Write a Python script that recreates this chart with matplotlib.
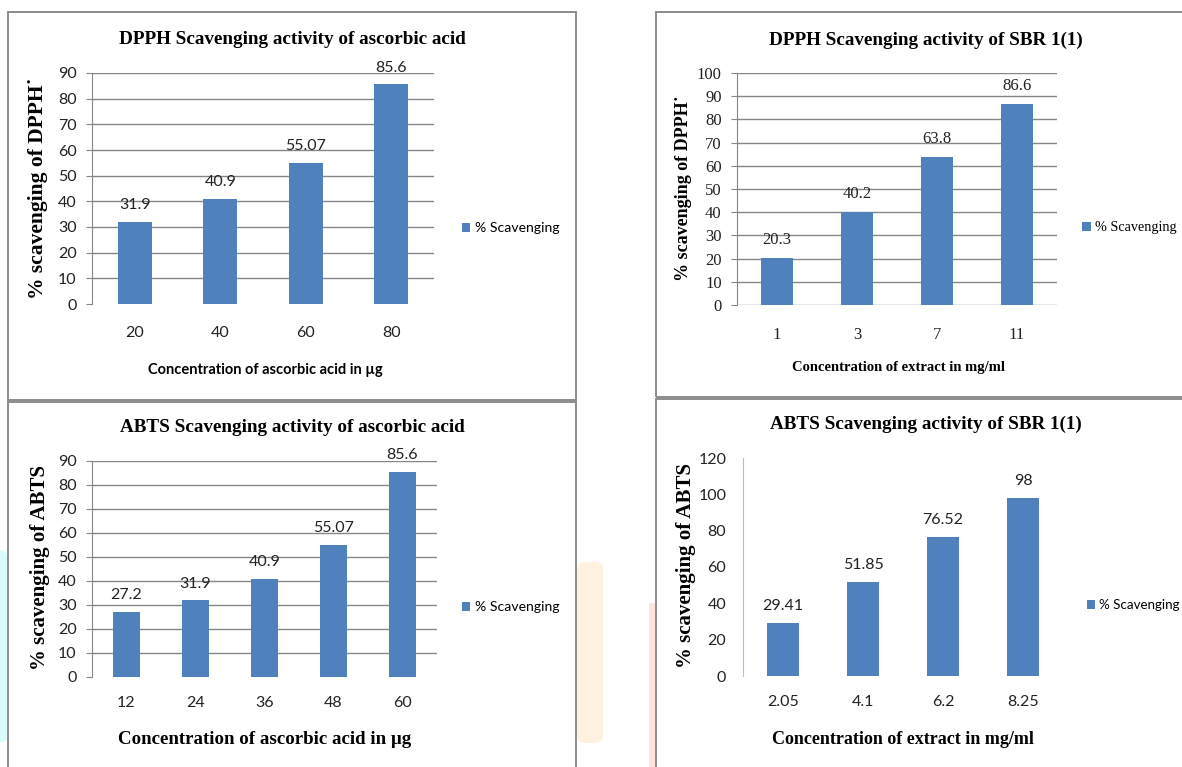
import matplotlib
matplotlib.use("Agg")
import matplotlib.pyplot as plt
from matplotlib.patches import Rectangle, FancyBboxPatch

# DPPH / ABTS scavenging data
dpph_aa_conc = ["20", "40", "60", "80"]
dpph_aa_pct = [31.9, 40.9, 55.07, 85.6]

dpph_sbr_conc = ["1", "3", "7", "11"]
dpph_sbr_pct = [20.3, 40.2, 63.8, 86.6]

abts_aa_conc = ["12", "24", "36", "48", "60"]
abts_aa_pct = [27.2, 31.9, 40.9, 55.07, 85.6]

abts_sbr_conc = ["2.05", "4.1", "6.2", "8.25"]
abts_sbr_pct = [29.41, 51.85, 76.52, 98]

W, H = 1182, 767
BAR = "#4F81BD"
GRID = "#868686"
SANS = "Lato"
SERIF = "Liberation Serif"

fig = plt.figure(figsize=(W / 100, H / 100), dpi=100)
fig.patch.set_facecolor("white")


def fx(x):
    return x / W


def fy(y):
    return 1 - y / H


def pixel_axes(l, t, r, b):
    return fig.add_axes([fx(l), fy(b), (r - l) / W, (b - t) / H])


# faint page background shapes
fig.add_artist(FancyBboxPatch((fx(-20), fy(743)), fx(28), (743 - 550) / H,
                              boxstyle="round,pad=0,rounding_size=0.01",
                              transform=fig.transFigure, fc="#DAFBFB", ec="none", zorder=0))
fig.add_artist(FancyBboxPatch((fx(577), fy(743)), fx(26), (743 - 562) / H,
                              boxstyle="round,pad=0,rounding_size=0.008",
                              transform=fig.transFigure, fc="#FFF1E0", ec="none", zorder=0))
fig.add_artist(Rectangle((fx(649), fy(775)), fx(6), (775 - 603) / H,
                         transform=fig.transFigure, fc="#FDE4DE", ec="none", zorder=0))

# panel frames
for l, t, r, b in [(8, 12, 576, 400), (8, 402, 576, 780), (656, 12, 1195, 397), (656, 399, 1195, 780)]:
    fig.add_artist(Rectangle((fx(l), fy(b)), (r - l) / W, (b - t) / H, transform=fig.transFigure,
                             fill=False, ec="#8C8C8C", lw=1.4, zorder=1))


def panel(box, cats, vals, ymax, ystep, font, tick_size, label_size, grid=True, zero_line=False,
          ytick_len=4, ypad=7, xpad=16):
    ax = pixel_axes(*box)
    ax.set_facecolor("none")
    x = list(range(len(cats)))
    bars = ax.bar(x, vals, width=0.4, color=BAR, label="% Scavenging", zorder=2)
    ax.bar_label(bars, fmt="%g", padding=7, fontsize=label_size, family=font, color="#222222")
    ax.set_xlim(-0.5, len(cats) - 0.5)
    ax.set_ylim(0, ymax)
    ticks = list(range(0, ymax + 1, ystep))
    ax.set_yticks(ticks)
    ax.set_xticks(x)
    ax.set_xticklabels(cats)
    if grid:
        for t in ticks if zero_line else ticks[1:]:
            ax.axhline(t, color=GRID, lw=1, zorder=1)
    for s in ["top", "right", "bottom"]:
        ax.spines[s].set_visible(False)
    ax.spines["left"].set_color(GRID if grid else "#BDBDBD")
    ax.tick_params(axis="y", length=ytick_len, color=GRID, pad=ypad, labelsize=tick_size)
    ax.tick_params(axis="x", length=0, pad=xpad, labelsize=tick_size)
    for lab in ax.get_xticklabels() + ax.get_yticklabels():
        lab.set_family(font)
        lab.set_color("#222222")
    return ax


ax1 = panel((92, 73, 434, 304), dpph_aa_conc, dpph_aa_pct, 90, 10, SANS, 11.5, 11.5, xpad=16)
ax2 = panel((737, 73, 1057, 305), dpph_sbr_conc, dpph_sbr_pct, 100, 10, SERIF, 12, 12,
            zero_line=True, xpad=16)
ax3 = panel((92, 461, 437, 677), abts_aa_conc, abts_aa_pct, 90, 10, SANS, 11.5, 11.5, xpad=14)
ax4 = panel((743, 458, 1063, 676), abts_sbr_conc, abts_sbr_pct, 120, 20, SANS, 11.5, 11.5,
            grid=False, ytick_len=0, ypad=12, xpad=14)

# legends
for ax, lx, ly, font, size in [(ax1, 462, 228, SANS, 10.1), (ax2, 1082, 228, SERIF, 10.2),
                               (ax3, 462, 607, SANS, 10.1), (ax4, 1087, 605, SANS, 9.6)]:
    ax.legend(loc="center left", bbox_to_anchor=(fx(lx), fy(ly)), bbox_transform=fig.transFigure,
              frameon=False, handlelength=0.6, handleheight=0.6, handletextpad=0.3, borderpad=0,
              borderaxespad=0, prop={"family": font, "size": size})

# titles
fig.text(fx(292), fy(40), "DPPH Scavenging activity of ascorbic acid", ha="center", va="center",
         family=SERIF, weight="bold", size=13.8)
fig.text(fx(926), fy(40), "DPPH Scavenging activity of SBR 1(1)", ha="center", va="center",
         family=SERIF, weight="bold", size=13.8)
fig.text(fx(292), fy(428), "ABTS Scavenging activity of ascorbic acid", ha="center", va="center",
         family=SERIF, weight="bold", size=13.8)
fig.text(fx(926), fy(424), "ABTS Scavenging activity of SBR 1(1)", ha="center", va="center",
         family=SERIF, weight="bold", size=13.8)

# axis titles
fig.text(fx(38), fy(188), "% scavenging of DPPH\u02d9", rotation=90, ha="center", va="center",
         family=SERIF, weight="bold", size=15.5)
fig.text(fx(683), fy(188), "% scavenging of DPPH\u02d9", rotation=90, ha="center", va="center",
         family=SERIF, weight="bold", size=13)
fig.text(fx(40), fy(568), "% scavenging of ABTS", rotation=90, ha="center", va="center",
         family=SERIF, weight="bold", size=15)
fig.text(fx(686), fy(566), "% scavenging of ABTS", rotation=90, ha="center", va="center",
         family=SERIF, weight="bold", size=15)

fig.text(fx(265), fy(370), "Concentration of ascorbic acid in \u00b5g", ha="center", va="center",
         family=SANS, weight="bold", size=10.5)
fig.text(fx(898), fy(368), "Concentration of extract in mg/ml", ha="center", va="center",
         family=SERIF, weight="bold", size=10.5)
fig.text(fx(265), fy(740), "Concentration of ascorbic acid in \u00b5g", ha="center", va="center",
         family=SERIF, weight="bold", size=13.6)
fig.text(fx(903), fy(740), "Concentration of extract in mg/ml", ha="center", va="center",
         family=SERIF, weight="bold", size=13)

fig.savefig("out.png", dpi=100)
